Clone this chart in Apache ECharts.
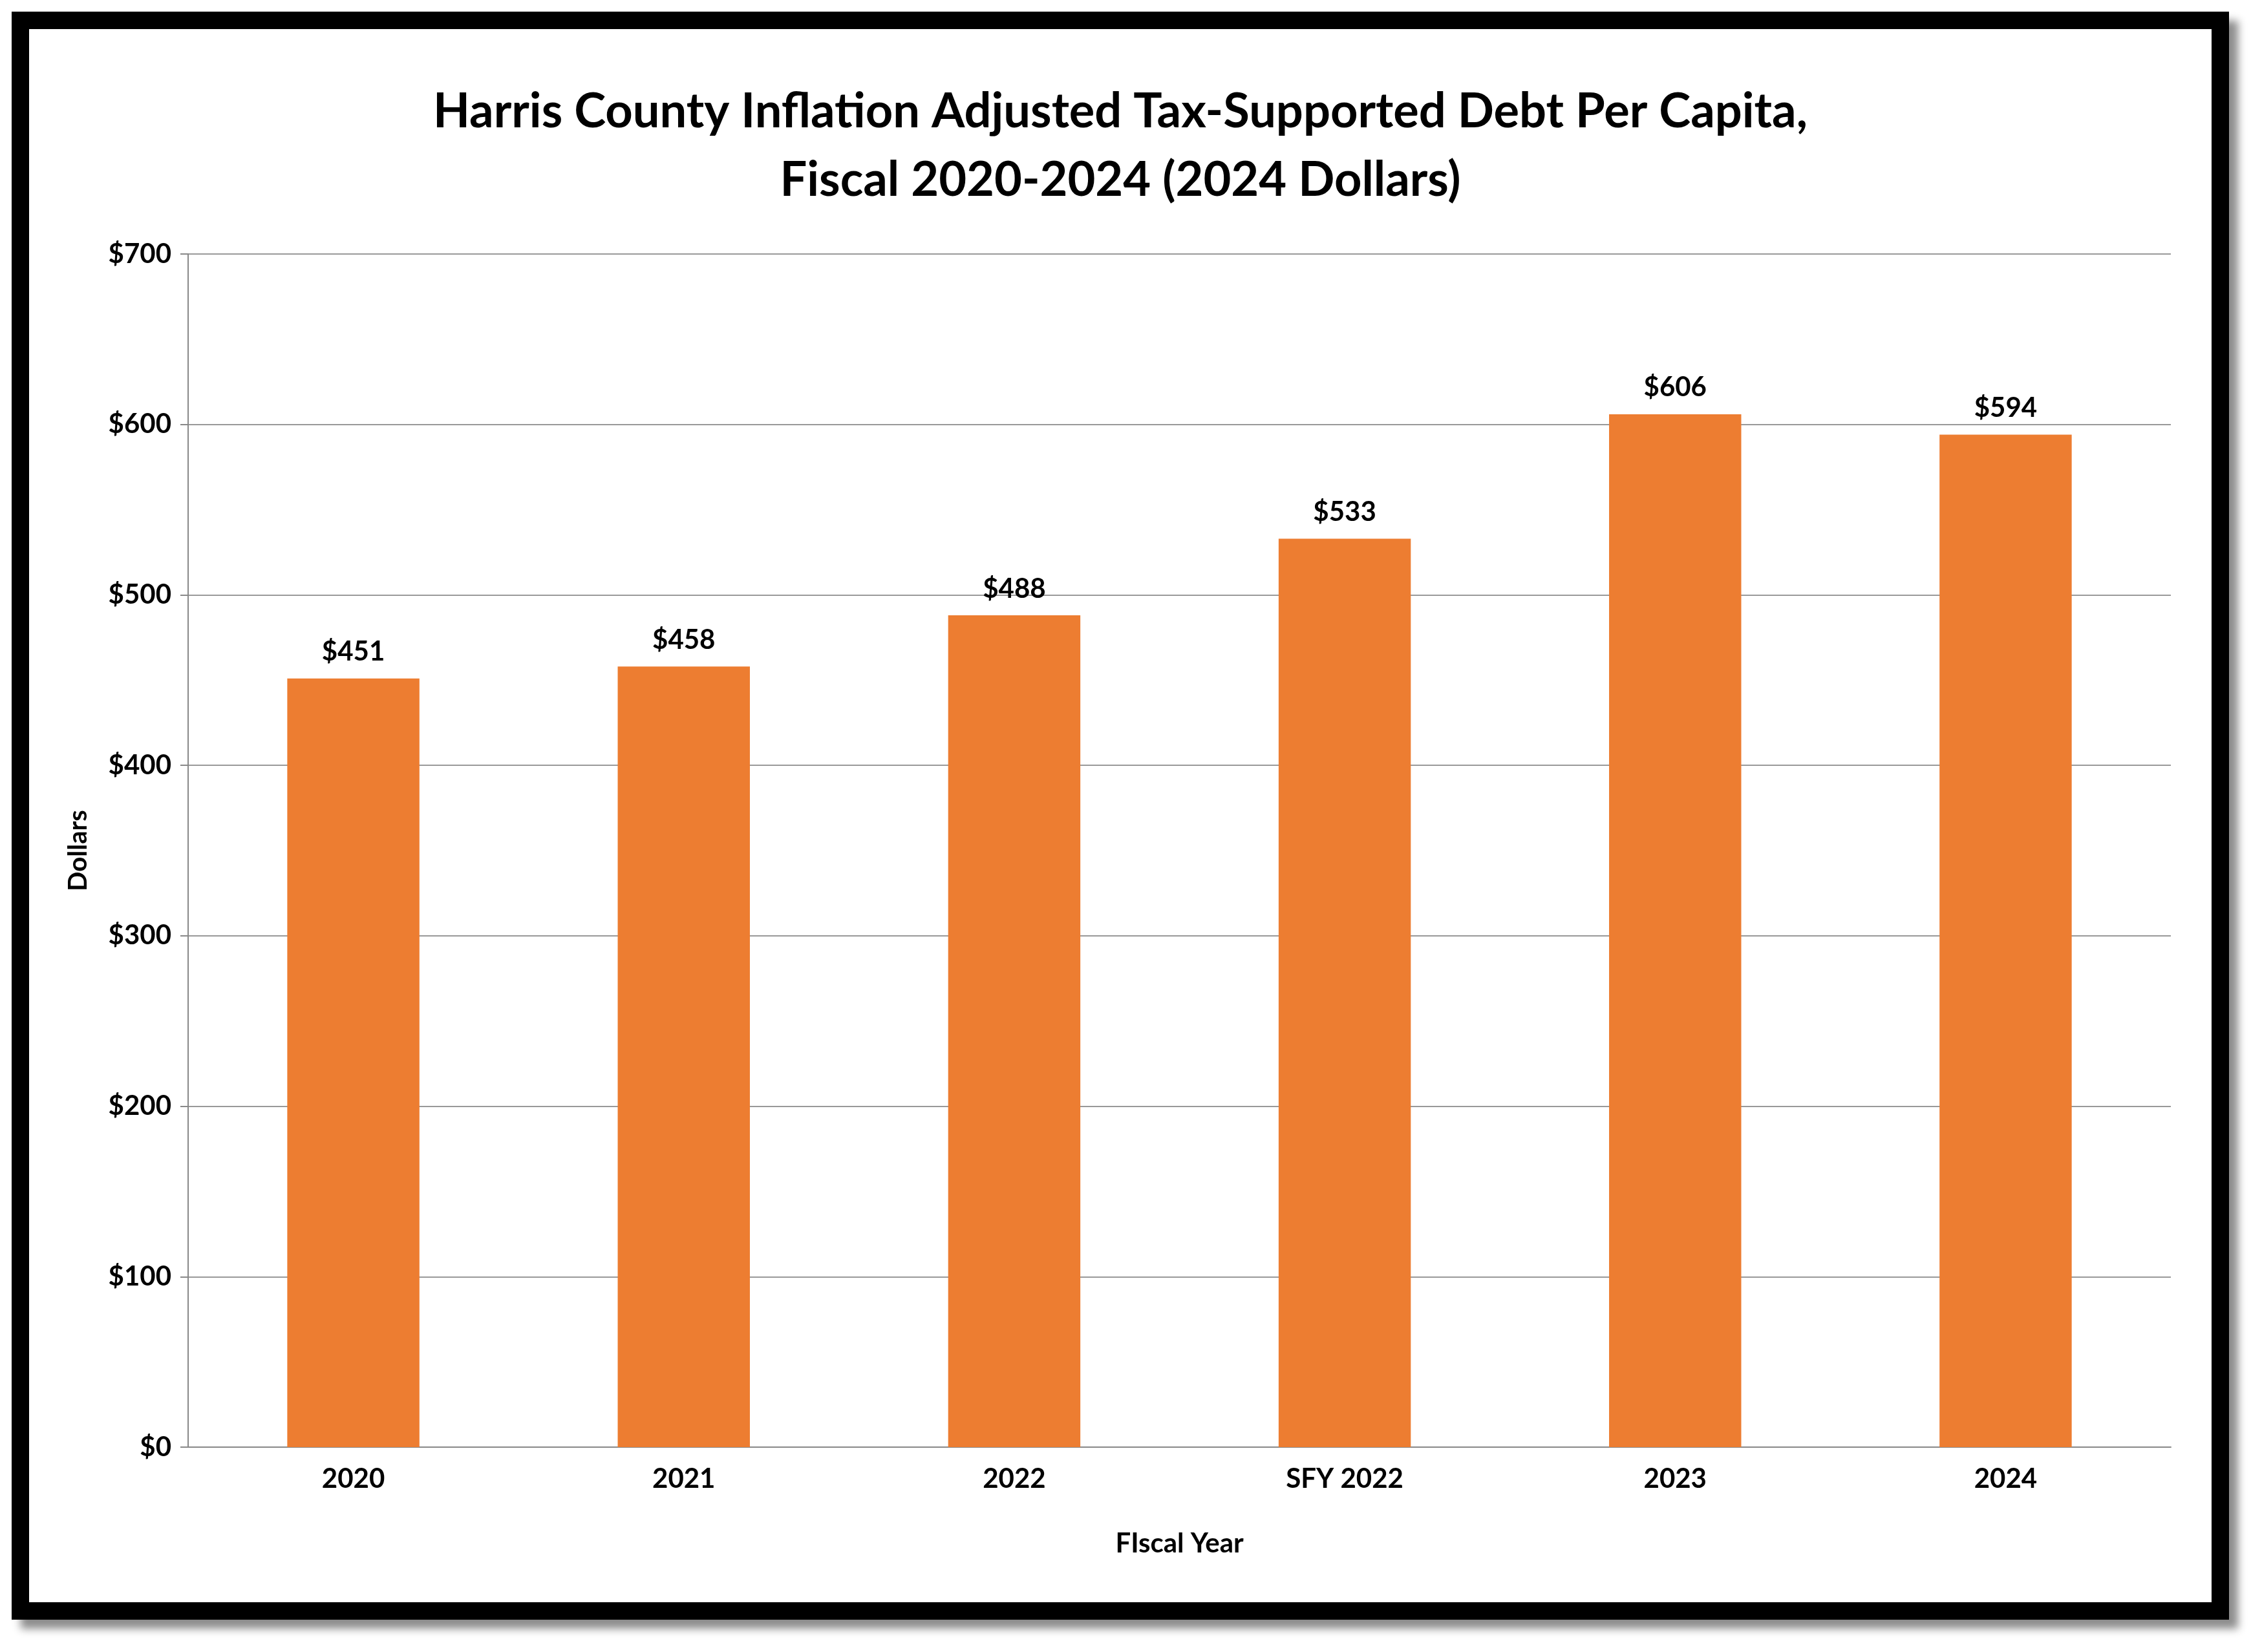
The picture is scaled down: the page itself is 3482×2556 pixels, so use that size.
<!DOCTYPE html>
<html><head><meta charset="utf-8">
<script src="https://cdn.jsdelivr.net/npm/echarts@6/dist/echarts.min.js"></script>
<style>
html,body{margin:0;padding:0;background:#fff;width:3482px;height:2556px;overflow:hidden}
#frame{position:absolute;left:18px;top:18px;width:3376px;height:2434px;border:27px solid #000;box-shadow:14px 14px 12px rgba(0,0,0,0.45);background:#fff}
#c{position:absolute;left:0;top:0;width:3376px;height:2434px}
</style></head><body>
<div id="frame"><div id="c"></div></div>
<script>
const categories=['2020','2021','2022','SFY 2022','2023','2024'];
const values=[451,458,488,533,606,594];
const chart=echarts.init(document.getElementById('c'));
const F='Lato, "Open Sans", sans-serif';
chart.setOption({
 title:{text:'Harris County Inflation Adjusted Tax-Supported Debt Per Capita,\nFiscal 2020-2024 (2024 Dollars)',left:'center',top:70,
  textStyle:{fontFamily:F,fontWeight:'bold',fontSize:74,lineHeight:106,color:'#000'}},
 grid:{left:246,right:3376-3313,top:348,bottom:2434-2194},
 xAxis:{type:'category',data:categories,name:'FIscal Year',nameLocation:'middle',nameGap:128,
  nameTextStyle:{fontFamily:F,fontWeight:'bold',fontSize:42,color:'#000'},
  axisLine:{lineStyle:{color:'#888',width:2}},axisTick:{length:12,lineStyle:{color:'#888',width:2}},
  axisLabel:{fontFamily:F,fontWeight:'bold',fontSize:42,color:'#000',margin:28}},
 yAxis:{type:'value',min:0,max:700,interval:100,name:'Dollars',nameLocation:'middle',nameGap:150,
  nameTextStyle:{fontFamily:F,fontWeight:'bold',fontSize:40,color:'#000'},
  axisLine:{show:true,lineStyle:{color:'#888',width:2}},axisTick:{show:true,length:12,inside:false,lineStyle:{color:'#888',width:2}},
  splitLine:{lineStyle:{color:'#999',width:2}},
  axisLabel:{fontFamily:F,fontWeight:'bold',fontSize:42,color:'#000',margin:26,formatter:'${value}'}},
 series:[{type:'bar',data:values,barWidth:'40%',itemStyle:{color:'#ED7D31'},
  label:{show:true,position:'top',distance:20,fontFamily:F,fontWeight:'bold',fontSize:42,color:'#000',formatter:'${c}'}}]
});
</script></body></html>
